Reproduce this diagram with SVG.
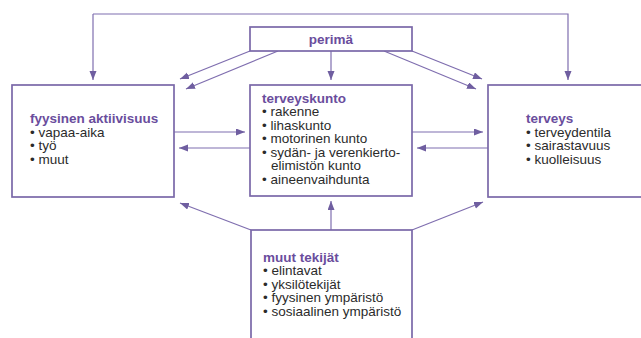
<svg xmlns="http://www.w3.org/2000/svg" width="641" height="338" viewBox="0 0 641 338">
<defs>
<marker id="ah" markerUnits="userSpaceOnUse" markerWidth="10" markerHeight="8" refX="9" refY="3.5" orient="auto">
<path d="M0,0 L9,3.5 L0,7 z" fill="#6f5ea0"/>
</marker>
<style>
.box{fill:#fff;stroke:#7a68a8;stroke-width:1.7}
.ln{fill:none;stroke:#7f6eaf;stroke-width:1.2;marker-end:url(#ah)}
.tt{font-family:"Liberation Sans",Arial,sans-serif;font-size:13.5px;font-weight:bold;fill:#6a4d9d}
.tx{font-family:"Liberation Sans",Arial,sans-serif;font-size:13.5px;fill:#2b2b2b}
</style>
</defs>
<rect width="641" height="338" fill="#fff"/>
<g id="connectors">
<polyline class="ln" points="93,14 93,80"/>
<polyline class="ln" points="93,14 568,14 568,80"/>
<line class="ln" x1="331" y1="51" x2="331" y2="80"/>
<line class="ln" x1="250" y1="51" x2="180" y2="79"/>
<line class="ln" x1="278" y1="51" x2="186" y2="89"/>
<line class="ln" x1="412" y1="51" x2="482" y2="79"/>
<line class="ln" x1="384" y1="51" x2="476" y2="89"/>
<line class="ln" x1="174" y1="132" x2="245" y2="132"/>
<line class="ln" x1="250" y1="148" x2="179" y2="148"/>
<line class="ln" x1="412" y1="132" x2="483" y2="132"/>
<line class="ln" x1="488" y1="148" x2="417" y2="148"/>
<line class="ln" x1="331" y1="230" x2="331" y2="201"/>
<line class="ln" x1="251" y1="230" x2="180" y2="203"/>
<line class="ln" x1="412" y1="230" x2="483" y2="202"/>
</g>
<g id="perima">
<rect class="box" x="250" y="27" width="162" height="24"/>
<text class="tt" x="331" y="44" text-anchor="middle">perimä</text>
</g>
<g id="fyysinen">
<rect class="box" x="12" y="85" width="162" height="112"/>
<text class="tt" x="30" y="123">fyysinen aktiivisuus</text>
<text class="tx" x="30" y="136.5">• vapaa-aika</text>
<text class="tx" x="30" y="150">• työ</text>
<text class="tx" x="30" y="163.5">• muut</text>
</g>
<g id="terveyskunto">
<rect class="box" x="250" y="85" width="162" height="111"/>
<text class="tt" x="262" y="102.5">terveyskunto</text>
<text class="tx" x="262" y="116">• rakenne</text>
<text class="tx" x="262" y="129.5">• lihaskunto</text>
<text class="tx" x="262" y="143">• motorinen kunto</text>
<text class="tx" x="262" y="156.5">• sydän- ja verenkierto-</text>
<text class="tx" x="271" y="170">elimistön kunto</text>
<text class="tx" x="262" y="183.5">• aineenvaihdunta</text>
</g>
<g id="terveys">
<rect class="box" x="488" y="85" width="162" height="112"/>
<text class="tt" x="526" y="123">terveys</text>
<text class="tx" x="526" y="136.5">• terveydentila</text>
<text class="tx" x="526" y="150">• sairastavuus</text>
<text class="tx" x="526" y="163.5">• kuolleisuus</text>
</g>
<g id="muut">
<rect class="box" x="251" y="230" width="161" height="120"/>
<text class="tt" x="263" y="261.5">muut tekijät</text>
<text class="tx" x="263" y="275">• elintavat</text>
<text class="tx" x="263" y="288.5">• yksilötekijät</text>
<text class="tx" x="263" y="302">• fyysinen ympäristö</text>
<text class="tx" x="263" y="315.5">• sosiaalinen ympäristö</text>
</g>
</svg>
